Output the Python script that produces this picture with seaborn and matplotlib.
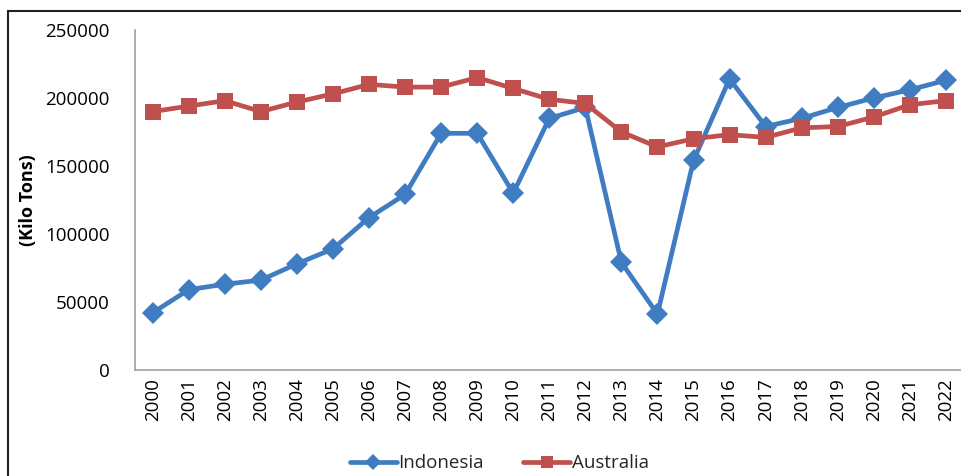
import seaborn as sns
import matplotlib.pyplot as plt
import pandas as pd
from matplotlib.patches import Rectangle

years = [str(y) for y in range(2000, 2023)]
indonesia = [42000, 59000, 63000, 66000, 78000, 89000, 112000, 129000, 174000, 174000,
             130000, 185000, 193000, 79000, 41000, 154000, 214000, 179000, 185000, 193000,
             200000, 206000, 213000]
australia = [190000, 194000, 198000, 190000, 197000, 203000, 210000, 208000, 208000, 215000,
             207000, 199000, 196000, 175000, 164000, 170000, 173000, 171000, 178000, 179000,
             186000, 195000, 198000]

df = pd.DataFrame({
    "Year": years * 2,
    "Value": indonesia + australia,
    "Country": ["Indonesia"] * len(years) + ["Australia"] * len(years),
})

sns.set_style("white")
plt.rcParams["font.family"] = ["Open Sans", "DejaVu Sans"]

fig = plt.figure(figsize=(9.62, 4.76), dpi=100)
ax = fig.add_axes([0.140, 0.223, 0.862, 0.714])

palette = {"Indonesia": "#3F7CC1", "Australia": "#C0504D"}
sns.lineplot(data=df, x="Year", y="Value", hue="Country", style="Country",
             palette=palette, markers={"Indonesia": "D", "Australia": "s"},
             dashes=False, linewidth=3.4, markersize=11, markeredgewidth=0,
             sort=False, ax=ax)

ax.set_ylim(0, 250000)
ax.set_xlim(-0.5, len(years) - 0.5)
ax.set_yticks(range(0, 250001, 50000))
ax.tick_params(axis="y", labelsize=13.5, length=0, pad=18, labelcolor="black")
ax.tick_params(axis="x", labelsize=13.5, length=0, labelrotation=90, pad=6, labelcolor="black")
ax.set_xlabel("")
ax.set_ylabel("(Kilo Tons)", fontsize=13, fontweight="bold", color="black")
ax.yaxis.set_label_coords(-0.118, 0.5)

for s in ["top", "right"]:
    ax.spines[s].set_visible(False)
for s in ["left", "bottom"]:
    ax.spines[s].set_color("#A0A0A0")
    ax.spines[s].set_linewidth(1.2)

leg = ax.legend(loc="center", bbox_to_anchor=(0.44, -0.275), ncol=2, frameon=False,
                fontsize=13.5, handlelength=2.5, columnspacing=2.1, handletextpad=0.1,
                borderpad=0)
leg.set_title(None)
for h in leg.legend_handles:
    h.set_markersize(8)

fig.patches.append(Rectangle((8 / 962, -0.1), 1.2, 1.1 - 11 / 476,
                             transform=fig.transFigure, fill=False,
                             edgecolor="#222222", linewidth=1.5))

fig.savefig("out.png", dpi=100)
